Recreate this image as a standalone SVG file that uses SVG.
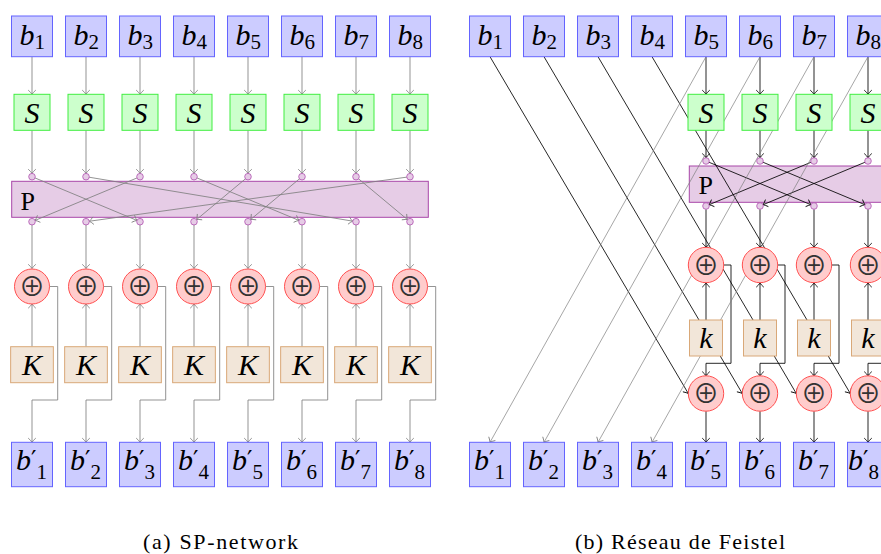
<svg xmlns="http://www.w3.org/2000/svg" width="881" height="554" viewBox="0 0 881 554">
<defs>
<style>
.bx{fill:#ccccff;stroke:#6464ff;stroke-width:1}
.sx{fill:#ccffcc;stroke:#40ee40;stroke-width:1}
.px{fill:#e6cce6;stroke:#a846a8;stroke-width:1}
.pc{fill:#e6cce6;stroke:#b050b0;stroke-width:.8}
.xr{fill:#ffcccc;stroke:#ff5050;stroke-width:1}
.kx{fill:#f2e6d9;stroke:#d9a878;stroke-width:1}
.m{font-family:"Liberation Serif","DejaVu Serif",serif;font-style:italic;font-size:30px;fill:#000}
.c{text-anchor:middle}
.sub{font-style:normal;font-size:21px}
.pr{font-family:"DejaVu Serif",serif;font-style:normal;font-size:24px}
.pl{font-family:"Liberation Serif","DejaVu Serif",serif;font-size:26px;fill:#000}
.op{font-family:"Noto Sans CJK JP","DejaVu Serif",sans-serif;font-size:26px;text-anchor:middle;fill:#333}
.cap{font-family:"Liberation Serif","DejaVu Serif",serif;font-size:22px;text-anchor:middle;fill:#000}
.g{fill:none;stroke:#808080;stroke-width:.85;marker-end:url(#ag)}
.gc{fill:none;stroke:#808080;stroke-width:.85;marker-end:url(#agc)}
.gl{fill:none;stroke:#808080;stroke-width:.7;marker-end:url(#ag)}
.k{fill:none;stroke:#000;stroke-width:.85;marker-end:url(#ak)}
.kc{fill:none;stroke:#000;stroke-width:.85;marker-end:url(#akc)}
</style>
<marker id="ag" markerUnits="userSpaceOnUse" viewBox="-6 -6 12 12" markerWidth="12" markerHeight="12" refX="0" refY="0" orient="auto"><path d="M-4.2,-3.8 Q-1.6,-0.9 0,0 Q-1.6,0.9 -4.2,3.8" fill="none" stroke="#808080" stroke-width=".85"/></marker>
<marker id="agc" markerUnits="userSpaceOnUse" viewBox="-6 -6 12 12" markerWidth="12" markerHeight="12" refX="3.3" refY="0" orient="auto"><path d="M-4.2,-3.8 Q-1.6,-0.9 0,0 Q-1.6,0.9 -4.2,3.8" fill="none" stroke="#808080" stroke-width=".85"/></marker>
<marker id="ak" markerUnits="userSpaceOnUse" viewBox="-6 -6 12 12" markerWidth="12" markerHeight="12" refX="0" refY="0" orient="auto"><path d="M-4.2,-3.8 Q-1.6,-0.9 0,0 Q-1.6,0.9 -4.2,3.8" fill="none" stroke="#000" stroke-width=".85"/></marker>
<marker id="akc" markerUnits="userSpaceOnUse" viewBox="-6 -6 12 12" markerWidth="12" markerHeight="12" refX="3.3" refY="0" orient="auto"><path d="M-4.2,-3.8 Q-1.6,-0.9 0,0 Q-1.6,0.9 -4.2,3.8" fill="none" stroke="#000" stroke-width=".85"/></marker>
</defs>
<rect width="881" height="554" fill="#fff"/>

<!-- ===== (a) SP-network ===== -->
<g id="sp-P"><rect class="px" x="11.7" y="181.3" width="416.6" height="36"/><text class="pl" x="20.5" y="209.5">P</text></g>

<g id="sp-connectors">
<!-- b_i to S -->
<path class="g" d="M32 56.7V94.3"/><path class="g" d="M86 56.7V94.3"/><path class="g" d="M140 56.7V94.3"/><path class="g" d="M194 56.7V94.3"/>
<path class="g" d="M248 56.7V94.3"/><path class="g" d="M302 56.7V94.3"/><path class="g" d="M356 56.7V94.3"/><path class="g" d="M410 56.7V94.3"/>
<!-- S to P inputs -->
<path class="g" d="M32 130.3V173.4"/><path class="g" d="M86 130.3V173.4"/><path class="g" d="M140 130.3V173.4"/><path class="g" d="M194 130.3V173.4"/>
<path class="g" d="M248 130.3V173.4"/><path class="g" d="M302 130.3V173.4"/><path class="g" d="M356 130.3V173.4"/><path class="g" d="M410 130.3V173.4"/>
<!-- permutation wiring -->
<path class="gc" d="M32 176.7L140 221.7"/>
<path class="gc" d="M86 176.7L356 221.7"/>
<path class="gc" d="M140 176.7L32 221.7"/>
<path class="gc" d="M194 176.7L302 221.7"/>
<path class="gc" d="M248 176.7L194 221.7"/>
<path class="gc" d="M302 176.7L248 221.7"/>
<path class="gc" d="M356 176.7L410 221.7"/>
<path class="gc" d="M410 176.7L86 221.7"/>
<!-- P outputs to XOR -->
<path class="g" d="M32 225V268.5"/><path class="g" d="M86 225V268.5"/><path class="g" d="M140 225V268.5"/><path class="g" d="M194 225V268.5"/>
<path class="g" d="M248 225V268.5"/><path class="g" d="M302 225V268.5"/><path class="g" d="M356 225V268.5"/><path class="g" d="M410 225V268.5"/>
<!-- key to XOR -->
<path class="g" d="M32 346.7V304"/><path class="g" d="M86 346.7V304"/><path class="g" d="M140 346.7V304"/><path class="g" d="M194 346.7V304"/>
<path class="g" d="M248 346.7V304"/><path class="g" d="M302 346.7V304"/><path class="g" d="M356 346.7V304"/><path class="g" d="M410 346.7V304"/>
<!-- XOR to outputs -->
<path class="g" d="M49.5 286.5H57.7V400H32V442.3"/>
<path class="g" d="M103.5 286.5H111.7V400H86V442.3"/>
<path class="g" d="M157.5 286.5H165.7V400H140V442.3"/>
<path class="g" d="M211.5 286.5H219.7V400H194V442.3"/>
<path class="g" d="M265.5 286.5H273.7V400H248V442.3"/>
<path class="g" d="M319.5 286.5H327.7V400H302V442.3"/>
<path class="g" d="M373.5 286.5H381.7V400H356V442.3"/>
<path class="g" d="M427.5 286.5H435.7V400H410V442.3"/>
</g>

<g id="sp-b1"><rect class="bx" x="11.5" y="16" width="41" height="40.7"/><text class="m" x="19.5" y="44.5">b<tspan class="sub" dy="4.5">1</tspan></text></g>
<g id="sp-b2"><rect class="bx" x="65.5" y="16" width="41" height="40.7"/><text class="m" x="73.5" y="44.5">b<tspan class="sub" dy="4.5">2</tspan></text></g>
<g id="sp-b3"><rect class="bx" x="119.5" y="16" width="41" height="40.7"/><text class="m" x="127.5" y="44.5">b<tspan class="sub" dy="4.5">3</tspan></text></g>
<g id="sp-b4"><rect class="bx" x="173.5" y="16" width="41" height="40.7"/><text class="m" x="181.5" y="44.5">b<tspan class="sub" dy="4.5">4</tspan></text></g>
<g id="sp-b5"><rect class="bx" x="227.5" y="16" width="41" height="40.7"/><text class="m" x="235.5" y="44.5">b<tspan class="sub" dy="4.5">5</tspan></text></g>
<g id="sp-b6"><rect class="bx" x="281.5" y="16" width="41" height="40.7"/><text class="m" x="289.5" y="44.5">b<tspan class="sub" dy="4.5">6</tspan></text></g>
<g id="sp-b7"><rect class="bx" x="335.5" y="16" width="41" height="40.7"/><text class="m" x="343.5" y="44.5">b<tspan class="sub" dy="4.5">7</tspan></text></g>
<g id="sp-b8"><rect class="bx" x="389.5" y="16" width="41" height="40.7"/><text class="m" x="397.5" y="44.5">b<tspan class="sub" dy="4.5">8</tspan></text></g>

<g id="sp-s1"><rect class="sx" x="14" y="94.3" width="36" height="36"/><text class="m c" x="32" y="122.5">S</text></g>
<g id="sp-s2"><rect class="sx" x="68" y="94.3" width="36" height="36"/><text class="m c" x="86" y="122.5">S</text></g>
<g id="sp-s3"><rect class="sx" x="122" y="94.3" width="36" height="36"/><text class="m c" x="140" y="122.5">S</text></g>
<g id="sp-s4"><rect class="sx" x="176" y="94.3" width="36" height="36"/><text class="m c" x="194" y="122.5">S</text></g>
<g id="sp-s5"><rect class="sx" x="230" y="94.3" width="36" height="36"/><text class="m c" x="248" y="122.5">S</text></g>
<g id="sp-s6"><rect class="sx" x="284" y="94.3" width="36" height="36"/><text class="m c" x="302" y="122.5">S</text></g>
<g id="sp-s7"><rect class="sx" x="338" y="94.3" width="36" height="36"/><text class="m c" x="356" y="122.5">S</text></g>
<g id="sp-s8"><rect class="sx" x="392" y="94.3" width="36" height="36"/><text class="m c" x="410" y="122.5">S</text></g>

<g id="sp-P-ports">
<circle class="pc" cx="32" cy="176.7" r="3.3"/><circle class="pc" cx="86" cy="176.7" r="3.3"/><circle class="pc" cx="140" cy="176.7" r="3.3"/><circle class="pc" cx="194" cy="176.7" r="3.3"/><circle class="pc" cx="248" cy="176.7" r="3.3"/><circle class="pc" cx="302" cy="176.7" r="3.3"/><circle class="pc" cx="356" cy="176.7" r="3.3"/><circle class="pc" cx="410" cy="176.7" r="3.3"/>
<circle class="pc" cx="32" cy="221.7" r="3.3"/><circle class="pc" cx="86" cy="221.7" r="3.3"/><circle class="pc" cx="140" cy="221.7" r="3.3"/><circle class="pc" cx="194" cy="221.7" r="3.3"/><circle class="pc" cx="248" cy="221.7" r="3.3"/><circle class="pc" cx="302" cy="221.7" r="3.3"/><circle class="pc" cx="356" cy="221.7" r="3.3"/><circle class="pc" cx="410" cy="221.7" r="3.3"/>
</g>

<g id="sp-x1"><circle class="xr" cx="32" cy="286.5" r="17.5"/><text class="op" x="32" y="296">⊕</text></g>
<g id="sp-x2"><circle class="xr" cx="86" cy="286.5" r="17.5"/><text class="op" x="86" y="296">⊕</text></g>
<g id="sp-x3"><circle class="xr" cx="140" cy="286.5" r="17.5"/><text class="op" x="140" y="296">⊕</text></g>
<g id="sp-x4"><circle class="xr" cx="194" cy="286.5" r="17.5"/><text class="op" x="194" y="296">⊕</text></g>
<g id="sp-x5"><circle class="xr" cx="248" cy="286.5" r="17.5"/><text class="op" x="248" y="296">⊕</text></g>
<g id="sp-x6"><circle class="xr" cx="302" cy="286.5" r="17.5"/><text class="op" x="302" y="296">⊕</text></g>
<g id="sp-x7"><circle class="xr" cx="356" cy="286.5" r="17.5"/><text class="op" x="356" y="296">⊕</text></g>
<g id="sp-x8"><circle class="xr" cx="410" cy="286.5" r="17.5"/><text class="op" x="410" y="296">⊕</text></g>

<g id="sp-k1"><rect class="kx" x="10.65" y="346.7" width="42.7" height="36"/><text class="m c" x="32" y="375">K</text></g>
<g id="sp-k2"><rect class="kx" x="64.65" y="346.7" width="42.7" height="36"/><text class="m c" x="86" y="375">K</text></g>
<g id="sp-k3"><rect class="kx" x="118.65" y="346.7" width="42.7" height="36"/><text class="m c" x="140" y="375">K</text></g>
<g id="sp-k4"><rect class="kx" x="172.65" y="346.7" width="42.7" height="36"/><text class="m c" x="194" y="375">K</text></g>
<g id="sp-k5"><rect class="kx" x="226.65" y="346.7" width="42.7" height="36"/><text class="m c" x="248" y="375">K</text></g>
<g id="sp-k6"><rect class="kx" x="280.65" y="346.7" width="42.7" height="36"/><text class="m c" x="302" y="375">K</text></g>
<g id="sp-k7"><rect class="kx" x="334.65" y="346.7" width="42.7" height="36"/><text class="m c" x="356" y="375">K</text></g>
<g id="sp-k8"><rect class="kx" x="388.65" y="346.7" width="42.7" height="36"/><text class="m c" x="410" y="375">K</text></g>

<g id="sp-o1"><rect class="bx" x="11.5" y="442.3" width="41" height="44.4"/><text class="m" x="16" y="470">b<tspan class="pr" dy="-2">′</tspan><tspan class="sub" dy="11">1</tspan></text></g>
<g id="sp-o2"><rect class="bx" x="65.5" y="442.3" width="41" height="44.4"/><text class="m" x="70" y="470">b<tspan class="pr" dy="-2">′</tspan><tspan class="sub" dy="11">2</tspan></text></g>
<g id="sp-o3"><rect class="bx" x="119.5" y="442.3" width="41" height="44.4"/><text class="m" x="124" y="470">b<tspan class="pr" dy="-2">′</tspan><tspan class="sub" dy="11">3</tspan></text></g>
<g id="sp-o4"><rect class="bx" x="173.5" y="442.3" width="41" height="44.4"/><text class="m" x="178" y="470">b<tspan class="pr" dy="-2">′</tspan><tspan class="sub" dy="11">4</tspan></text></g>
<g id="sp-o5"><rect class="bx" x="227.5" y="442.3" width="41" height="44.4"/><text class="m" x="232" y="470">b<tspan class="pr" dy="-2">′</tspan><tspan class="sub" dy="11">5</tspan></text></g>
<g id="sp-o6"><rect class="bx" x="281.5" y="442.3" width="41" height="44.4"/><text class="m" x="286" y="470">b<tspan class="pr" dy="-2">′</tspan><tspan class="sub" dy="11">6</tspan></text></g>
<g id="sp-o7"><rect class="bx" x="335.5" y="442.3" width="41" height="44.4"/><text class="m" x="340" y="470">b<tspan class="pr" dy="-2">′</tspan><tspan class="sub" dy="11">7</tspan></text></g>
<g id="sp-o8"><rect class="bx" x="389.5" y="442.3" width="41" height="44.4"/><text class="m" x="394" y="470">b<tspan class="pr" dy="-2">′</tspan><tspan class="sub" dy="11">8</tspan></text></g>

<text class="cap" x="220.5" y="549" textLength="155" lengthAdjust="spacing">(a) SP-network</text>

<!-- ===== (b) Feistel network ===== -->
<g id="fe-P"><rect class="px" x="689.3" y="166" width="200" height="36.3"/><text class="pl" x="698.5" y="193.5">P</text></g>

<g id="fe-connectors">
<!-- right half into S-boxes -->
<path class="k" d="M706 56.7V94.3"/><path class="k" d="M760 56.7V94.3"/><path class="k" d="M814 56.7V94.3"/><path class="k" d="M868 56.7V94.3"/>
<path class="k" d="M706 130.3V157.7"/><path class="k" d="M760 130.3V157.7"/><path class="k" d="M814 130.3V157.7"/><path class="k" d="M868 130.3V157.7"/>
<!-- permutation wiring -->
<path class="kc" d="M706 161L814 206"/>
<path class="kc" d="M760 161L868 206"/>
<path class="kc" d="M814 161L706 206"/>
<path class="kc" d="M868 161L760 206"/>
<!-- P outputs to first XOR row -->
<path class="k" d="M706 209.3V247.3"/><path class="k" d="M760 209.3V247.3"/><path class="k" d="M814 209.3V247.3"/><path class="k" d="M868 209.3V247.3"/>
<!-- round key into first XOR row -->
<path class="k" d="M706 320V283"/><path class="k" d="M760 320V283"/><path class="k" d="M814 320V283"/><path class="k" d="M868 320V283"/>
<!-- F output into second XOR row -->
<path class="k" d="M723.7 265H731V363.3H706V375.8"/>
<path class="k" d="M777.7 265H785V363.3H760V375.8"/>
<path class="k" d="M831.7 265H839V363.3H814V375.8"/>
<path class="k" d="M885.7 265H893V363.3H868V375.8"/>
<!-- second XOR row to outputs -->
<path class="k" d="M706 411.2V442.3"/><path class="k" d="M760 411.2V442.3"/><path class="k" d="M814 411.2V442.3"/><path class="k" d="M868 411.2V442.3"/>
<!-- left half into second XOR row -->
<path class="k" d="M490 56.7L688.3 393.5"/>
<path class="k" d="M544 56.7L742.3 393.5"/>
<path class="k" d="M598 56.7L796.3 393.5"/>
<path class="k" d="M652 56.7L850.3 393.5"/>
<!-- right half becomes new left half -->
<path class="gl" d="M706 56.7L490 442.3"/>
<path class="gl" d="M760 56.7L544 442.3"/>
<path class="gl" d="M814 56.7L598 442.3"/>
<path class="gl" d="M868 56.7L652 442.3"/>
</g>

<g id="fe-b1"><rect class="bx" x="469.5" y="16" width="41" height="40.7"/><text class="m" x="477.5" y="44.5">b<tspan class="sub" dy="4.5">1</tspan></text></g>
<g id="fe-b2"><rect class="bx" x="523.5" y="16" width="41" height="40.7"/><text class="m" x="531.5" y="44.5">b<tspan class="sub" dy="4.5">2</tspan></text></g>
<g id="fe-b3"><rect class="bx" x="577.5" y="16" width="41" height="40.7"/><text class="m" x="585.5" y="44.5">b<tspan class="sub" dy="4.5">3</tspan></text></g>
<g id="fe-b4"><rect class="bx" x="631.5" y="16" width="41" height="40.7"/><text class="m" x="639.5" y="44.5">b<tspan class="sub" dy="4.5">4</tspan></text></g>
<g id="fe-b5"><rect class="bx" x="685.5" y="16" width="41" height="40.7"/><text class="m" x="693.5" y="44.5">b<tspan class="sub" dy="4.5">5</tspan></text></g>
<g id="fe-b6"><rect class="bx" x="739.5" y="16" width="41" height="40.7"/><text class="m" x="747.5" y="44.5">b<tspan class="sub" dy="4.5">6</tspan></text></g>
<g id="fe-b7"><rect class="bx" x="793.5" y="16" width="41" height="40.7"/><text class="m" x="801.5" y="44.5">b<tspan class="sub" dy="4.5">7</tspan></text></g>
<g id="fe-b8"><rect class="bx" x="847.5" y="16" width="41" height="40.7"/><text class="m" x="855.5" y="44.5">b<tspan class="sub" dy="4.5">8</tspan></text></g>

<g id="fe-s5"><rect class="sx" x="688" y="94.3" width="36" height="36"/><text class="m c" x="706" y="122.5">S</text></g>
<g id="fe-s6"><rect class="sx" x="742" y="94.3" width="36" height="36"/><text class="m c" x="760" y="122.5">S</text></g>
<g id="fe-s7"><rect class="sx" x="796" y="94.3" width="36" height="36"/><text class="m c" x="814" y="122.5">S</text></g>
<g id="fe-s8"><rect class="sx" x="850" y="94.3" width="36" height="36"/><text class="m c" x="868" y="122.5">S</text></g>

<g id="fe-P-ports">
<circle class="pc" cx="706" cy="161" r="3.3"/><circle class="pc" cx="760" cy="161" r="3.3"/><circle class="pc" cx="814" cy="161" r="3.3"/><circle class="pc" cx="868" cy="161" r="3.3"/>
<circle class="pc" cx="706" cy="206" r="3.3"/><circle class="pc" cx="760" cy="206" r="3.3"/><circle class="pc" cx="814" cy="206" r="3.3"/><circle class="pc" cx="868" cy="206" r="3.3"/>
</g>

<g id="fe-xa5"><circle class="xr" cx="706" cy="265" r="17.7"/><text class="op" x="706" y="274.5">⊕</text></g>
<g id="fe-xa6"><circle class="xr" cx="760" cy="265" r="17.7"/><text class="op" x="760" y="274.5">⊕</text></g>
<g id="fe-xa7"><circle class="xr" cx="814" cy="265" r="17.7"/><text class="op" x="814" y="274.5">⊕</text></g>
<g id="fe-xa8"><circle class="xr" cx="868" cy="265" r="17.7"/><text class="op" x="868" y="274.5">⊕</text></g>

<g id="fe-k5"><rect class="kx" x="689.5" y="320" width="33" height="36"/><text class="m c" x="706" y="348">k</text></g>
<g id="fe-k6"><rect class="kx" x="743.5" y="320" width="33" height="36"/><text class="m c" x="760" y="348">k</text></g>
<g id="fe-k7"><rect class="kx" x="797.5" y="320" width="33" height="36"/><text class="m c" x="814" y="348">k</text></g>
<g id="fe-k8"><rect class="kx" x="851.5" y="320" width="33" height="36"/><text class="m c" x="868" y="348">k</text></g>

<g id="fe-xb5"><circle class="xr" cx="706" cy="393.5" r="17.7"/><text class="op" x="706" y="403">⊕</text></g>
<g id="fe-xb6"><circle class="xr" cx="760" cy="393.5" r="17.7"/><text class="op" x="760" y="403">⊕</text></g>
<g id="fe-xb7"><circle class="xr" cx="814" cy="393.5" r="17.7"/><text class="op" x="814" y="403">⊕</text></g>
<g id="fe-xb8"><circle class="xr" cx="868" cy="393.5" r="17.7"/><text class="op" x="868" y="403">⊕</text></g>

<g id="fe-o1"><rect class="bx" x="469.5" y="442.3" width="41" height="44.4"/><text class="m" x="474" y="470">b<tspan class="pr" dy="-2">′</tspan><tspan class="sub" dy="11">1</tspan></text></g>
<g id="fe-o2"><rect class="bx" x="523.5" y="442.3" width="41" height="44.4"/><text class="m" x="528" y="470">b<tspan class="pr" dy="-2">′</tspan><tspan class="sub" dy="11">2</tspan></text></g>
<g id="fe-o3"><rect class="bx" x="577.5" y="442.3" width="41" height="44.4"/><text class="m" x="582" y="470">b<tspan class="pr" dy="-2">′</tspan><tspan class="sub" dy="11">3</tspan></text></g>
<g id="fe-o4"><rect class="bx" x="631.5" y="442.3" width="41" height="44.4"/><text class="m" x="636" y="470">b<tspan class="pr" dy="-2">′</tspan><tspan class="sub" dy="11">4</tspan></text></g>
<g id="fe-o5"><rect class="bx" x="685.5" y="442.3" width="41" height="44.4"/><text class="m" x="690" y="470">b<tspan class="pr" dy="-2">′</tspan><tspan class="sub" dy="11">5</tspan></text></g>
<g id="fe-o6"><rect class="bx" x="739.5" y="442.3" width="41" height="44.4"/><text class="m" x="744" y="470">b<tspan class="pr" dy="-2">′</tspan><tspan class="sub" dy="11">6</tspan></text></g>
<g id="fe-o7"><rect class="bx" x="793.5" y="442.3" width="41" height="44.4"/><text class="m" x="798" y="470">b<tspan class="pr" dy="-2">′</tspan><tspan class="sub" dy="11">7</tspan></text></g>
<g id="fe-o8"><rect class="bx" x="847.5" y="442.3" width="41" height="44.4"/><text class="m" x="848" y="470">b<tspan class="pr" dy="-2">′</tspan><tspan class="sub" dy="11">8</tspan></text></g>

<text class="cap" x="680" y="549" textLength="210" lengthAdjust="spacing">(b) Réseau de Feistel</text>
</svg>
